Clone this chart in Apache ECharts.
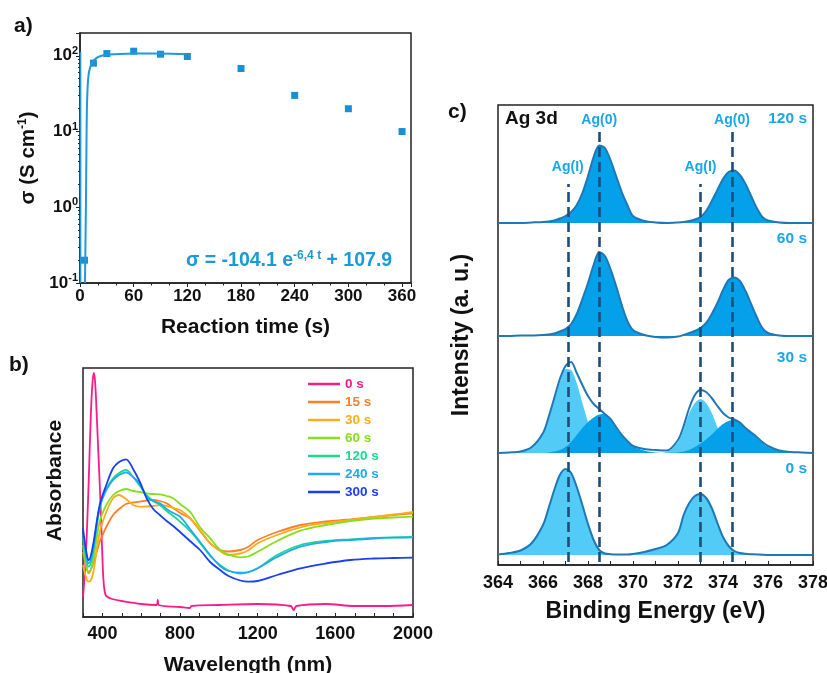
<!DOCTYPE html>
<html><head><meta charset="utf-8">
<script src="https://cdn.jsdelivr.net/npm/echarts@6/dist/echarts.min.js"></script>
<style>html,body{margin:0;padding:0;background:#fff}#c{width:827px;height:673px}</style>
</head><body><div id="c"></div>
<script>
const FONT = '"Liberation Sans", Arial, sans-serif';

// ---------- Panel a: conductivity vs reaction time ----------
const timeS = [5, 15, 30, 60, 90, 120, 180, 240, 300, 360];
const sigma = [0.2, 80, 107, 115, 105, 98, 68, 30, 20, 10];
const fitT = [5.6, 6.2, 6.7, 7.2, 7.7, 8.5, 9.5, 11, 13, 16, 20, 25, 33, 45, 60, 90, 120];
const fitSigma = [0.1, 0.4, 1.3, 6, 20, 38, 55, 68, 78, 88, 96, 101, 104, 106, 107, 107, 105];
const edgeT = [0.6, 0.6];
const edgeSigma = [112, 0.1];
const aXTickLabels = [0, 60, 120, 180, 240, 300, 360];
const aYTickExps = [-1, 0, 1, 2];

// ---------- Panel b: absorbance spectra ----------
const wl0 = [300, 310, 320, 330, 340, 348, 355, 362, 370, 380, 390, 398, 405, 412, 420, 450, 500, 600, 680, 685, 690, 800, 850, 860, 1000, 1200, 1370, 1385, 1400, 1550, 1700, 1850, 2000];
const abs0 = [20, 45, 85, 140, 200, 232, 244, 236, 205, 160, 115, 70, 38, 25, 21, 18, 16, 13, 12, 17, 12, 10, 9, 11, 12, 13, 11, 7, 11, 13, 11, 11, 12];
const wl = [300, 320, 330, 350, 386, 420, 455, 486, 521, 558, 593, 628, 662, 696, 731, 765, 800, 851, 903, 955, 1006, 1050, 1110, 1150, 1200, 1300, 1420, 1550, 1678, 1800, 1900, 2000];
const abs15 = [65, 48, 45, 52, 75, 90, 102, 108, 113, 114.5, 115.3, 116.5, 117, 116, 113.7, 109, 104, 98.7, 86.3, 73.7, 67, 65.5, 67, 70, 77, 85, 92, 95.5, 97.7, 100, 102, 103.7];
const abs30 = [52, 37, 35.3, 42, 85, 105, 118.7, 122, 118, 112, 110.3, 110.5, 111, 112, 111, 109, 107, 99, 87, 74, 66, 62, 63.5, 66.5, 73.7, 82, 89.7, 94, 97, 100, 102.5, 105];
const abs60 = [72, 48, 43.7, 55, 95.3, 112, 122, 126, 128, 126, 125, 123.7, 123, 122.7, 121, 118.7, 113, 105.3, 89.7, 78.7, 67, 62.5, 59.7, 60.5, 65.3, 76, 86.3, 92, 96, 98.5, 99.5, 100.3];
const abs120 = [78.7, 54, 50.3, 62, 108.7, 128, 138.7, 144, 147, 140, 131, 122, 116, 112, 106, 101, 95.3, 86, 74, 61, 52, 46.5, 43.5, 44.5, 48.7, 62, 72, 76, 77.7, 79, 79.7, 80];
const abs240 = [82, 58, 53.7, 66, 110.3, 127, 137, 142, 144.7, 140, 133, 120.3, 116, 113.7, 108, 104, 100.3, 88, 75, 62, 51, 46, 44.3, 45, 48.7, 60, 70.3, 75, 77, 78.5, 79.3, 79.7];
const abs300 = [88.7, 62, 57, 70, 112, 132, 148.7, 155, 157.7, 148, 135, 118.7, 108, 102, 96, 91, 85, 76, 67, 55, 47, 41, 36.5, 35.3, 36, 42, 48.7, 53.5, 57, 58.5, 59, 59.3];
const bNames = ['0 s', '15 s', '30 s', '60 s', '120 s', '240 s', '300 s'];
const bColors = ['#ff1a8c', '#ff7f24', '#ffab1f', '#84e01e', '#1cd98e', '#1ea9f2', '#1b3ff2'];
const bXTickLabels = [400, 800, 1200, 1600, 2000];

// ---------- Panel c: Ag 3d XPS ----------
const be = [364, 364.5, 365, 365.5, 366, 366.25, 366.5, 366.75, 367, 367.25, 367.5, 367.75, 368, 368.25, 368.5, 368.75, 369, 369.25, 369.5, 369.75, 370, 370.5, 371, 371.5, 372, 372.25, 372.5, 372.75, 373, 373.25, 373.5, 373.75, 374, 374.25, 374.5, 374.75, 375, 375.25, 375.5, 375.75, 376, 376.5, 377, 377.5, 378];
const env0s = [0.5, 2, 4.5, 12, 30, 47, 65, 80, 86, 82, 68, 50, 31, 15, 5, 1.5, 0.8, 0.5, 0.5, 0.5, 1, 3, 6, 10, 22, 40, 52, 59, 61, 57, 47, 32, 18, 9, 4, 2, 1.2, 0.8, 0.5, 0.3, 0, 0, 0, 0, 0];
const env30s = [0, 0.5, 1.5, 6, 20, 36, 55, 74, 87, 91, 80, 68, 57, 49, 44, 39, 34, 26, 18, 12, 7, 4, 3, 2.5, 13, 27, 45, 58, 63, 61, 55, 47, 40, 35.5, 33.5, 30.5, 25, 20.5, 16, 11, 7, 2.5, 1, 0.5, 0];
const agI30s = [0, 0.5, 1.5, 6, 20, 35, 53, 71, 84, 83, 70, 50, 31, 17, 8, 3.5, 1.5, 0.5, 0, 0, 0, 0, 0, 1, 11, 24, 40, 50, 54, 50, 40, 26, 14, 6, 2.5, 1, 0.5, 0, 0, 0, 0, 0, 0, 0, 0];
const ag030s = [0, 0, 0, 0, 0, 0.5, 1.5, 3, 6, 11, 18, 25, 31, 35.5, 38.5, 39, 33, 25, 17, 11, 6.5, 2.5, 0.5, 0, 0.5, 1.5, 3, 6, 9.5, 13.5, 18.5, 24, 29, 32, 33, 30, 25, 20, 15, 10, 6, 2, 0.5, 0, 0];
const env60s = [0, 0, 0.5, 0.5, 1, 1.5, 2.5, 4.5, 7, 12, 22, 37, 53, 71, 84, 80, 67, 50, 31, 15, 6, 1, -1, -1.5, -0.5, 1, 3, 5, 8, 13, 22, 33, 46, 56, 58.5, 55, 45, 32, 19, 8, 3, 0.5, 0, 0, 0];
const env120s = [0, 0, 0, 0.5, 1, 1.5, 2.5, 4.5, 7, 11, 18, 30, 47, 66, 77.5, 75, 63, 47, 31, 18, 7, 2, 0.5, 0, 0.5, 1, 2, 3.5, 6, 12, 22, 33, 44, 51, 52.5, 48, 39, 27, 15, 6, 2.5, 0.5, 0, 0, 0];
const peakNames = ['Ag(I)', 'Ag(0)', 'Ag(I)', 'Ag(0)'];
const peakEnergies = [367.1, 368.5, 373.0, 374.4];
const cXTickLabels = [364, 366, 368, 370, 372, 374, 376, 378];
const sampleLabels = ['0 s', '30 s', '60 s', '120 s'];

// layout (stack offsets in panel c units, 1 unit = 1 px)
const offsets = { s0: 10, s30: 112, s60: 229, s120: 342 };
const DARK = '#05a0ea', LIGHT = '#52cbf6', ENV = '#1f78b6', DASH = '#1d4d78', LBL = '#1aa6ea';

const pairs = (xs, ys, off) => xs.map((x, i) => [x, ys[i] + (off || 0)]);

const tickFont = (s) => ({ fontFamily: FONT, fontWeight: 'bold', fontSize: s, color: '#111' });
const nameFont = (s) => ({ fontFamily: FONT, fontWeight: 'bold', fontSize: s, color: '#111' });

const chart = echarts.init(document.getElementById('c'), null, { renderer: 'canvas' });

const series = [];
// panel a
series.push({ name: 'edge', type: 'line', xAxisIndex: 0, yAxisIndex: 0, data: pairs(edgeT, edgeSigma), symbol: 'none', lineStyle: { color: '#2398da', width: 1.6 } });
series.push({ name: 'fit', type: 'line', xAxisIndex: 0, yAxisIndex: 0, data: pairs(fitT, fitSigma), symbol: 'none', smooth: 0.3, lineStyle: { color: '#2398da', width: 2 } });
series.push({ name: 'sigma', type: 'scatter', xAxisIndex: 0, yAxisIndex: 0, data: pairs(timeS, sigma), symbol: 'rect', symbolSize: 7, itemStyle: { color: '#1a8fd2', opacity: 1 } });
// panel b
const bData = [pairs(wl0, abs0), pairs(wl, abs15), pairs(wl, abs30), pairs(wl, abs60), pairs(wl, abs120), pairs(wl, abs240), pairs(wl, abs300)];
bData.forEach((d, i) => {
  series.push({ name: bNames[i], type: 'line', xAxisIndex: 1, yAxisIndex: 1, data: d, symbol: 'none', smooth: 0.35, lineStyle: { color: bColors[i], width: 1.8 }, itemStyle: { color: bColors[i] } });
});
// panel c
function fillSeries(name, ys, off, color) {
  return { name, type: 'line', xAxisIndex: 2, yAxisIndex: 2, data: pairs(be, ys, off), symbol: 'none', smooth: 0.3, lineStyle: { width: 0 }, areaStyle: { color, opacity: 1, origin: off }, silent: true };
}
function envSeries(name, ys, off, fill) {
  const s = { name, type: 'line', xAxisIndex: 2, yAxisIndex: 2, data: pairs(be, ys, off), symbol: 'none', smooth: 0.3, lineStyle: { color: ENV, width: 2 }, silent: true };
  if (fill) s.areaStyle = { color: fill, opacity: 1, origin: off };
  return s;
}
series.push(envSeries('xps 0 s', env0s, offsets.s0, LIGHT));
series.push(fillSeries('xps 30 s Ag(I)', agI30s, offsets.s30, LIGHT));
series.push(fillSeries('xps 30 s Ag(0)', ag030s, offsets.s30, DARK));
series.push(envSeries('xps 30 s', env30s, offsets.s30));
series.push(envSeries('xps 60 s', env60s, offsets.s60, DARK));
const top120 = envSeries('xps 120 s', env120s, offsets.s120, DARK);
const lineTops = { 'Ag(0)': 433, 'Ag(I)': 381 };
top120.markLine = {
  silent: true, symbol: ['none', 'none'], animation: false,
  lineStyle: { color: DASH, width: 2.6, type: [10, 5] },
  data: peakEnergies.map((e, i) => [
    { coord: [e, 3] },
    { coord: [e, lineTops[peakNames[i]]], label: { show: true, position: 'end', formatter: peakNames[i], distance: peakNames[i] === 'Ag(0)' ? 5 : 10, color: LBL, fontFamily: FONT, fontWeight: 'bold', fontSize: 14 } }
  ])
};
series.push(top120);

const gridBase = { show: true, borderColor: '#222', borderWidth: 1.5, backgroundColor: 'transparent', containLabel: false, outerBoundsMode: 'none' };
const option = {
  animation: false,
  backgroundColor: '#fff',
  grid: [
    Object.assign({ left: 80, top: 33, width: 331, height: 250 }, gridBase),
    Object.assign({ left: 83, top: 368, width: 330, height: 249 }, gridBase),
    Object.assign({ left: 498, top: 105, width: 315, height: 460 }, gridBase)
  ],
  xAxis: [
    { gridIndex: 0, type: 'value', min: 0, max: 370, interval: 60,
      axisLine: { lineStyle: { color: '#222', width: 1.5 } },
      axisTick: { inside: false, length: 4, lineStyle: { color: '#222' } },
      minorTick: { show: true, splitNumber: 3, length: 2.5, lineStyle: { color: '#222' } },
      splitLine: { show: false },
      axisLabel: Object.assign({ margin: 5, formatter: v => aXTickLabels.includes(v) ? String(v) : '' }, tickFont(17)),
      name: 'Reaction time (s)', nameLocation: 'middle', nameGap: 34, nameTextStyle: nameFont(21) },
    { gridIndex: 1, type: 'value', min: 300, max: 2000, interval: 100,
      axisLine: { lineStyle: { color: '#222', width: 1.5 } },
      axisTick: { inside: true, length: 4, lineStyle: { color: '#222' } },
      splitLine: { show: false },
      axisLabel: Object.assign({ margin: 8, formatter: v => bXTickLabels.includes(v) ? String(v) : '' }, tickFont(18)),
      name: 'Wavelength (nm)', nameLocation: 'middle', nameGap: 38, nameTextStyle: nameFont(21) },
    { gridIndex: 2, type: 'value', min: 364, max: 378, interval: 2,
      axisLine: { lineStyle: { color: '#222', width: 1.5 } },
      axisTick: { inside: true, length: 4, lineStyle: { color: '#222' } },
      minorTick: { show: true, splitNumber: 2, length: 4, lineStyle: { color: '#222' } },
      splitLine: { show: false },
      axisLabel: Object.assign({ margin: 9, formatter: v => cXTickLabels.includes(v) ? String(v) : '' }, tickFont(18)),
      name: 'Binding Energy (eV)', nameLocation: 'middle', nameGap: 35, nameTextStyle: nameFont(23) }
  ],
  yAxis: [
    { gridIndex: 0, type: 'log', logBase: 10, min: 0.1, max: 200,
      axisLine: { show: true, lineStyle: { color: '#222', width: 1.5 } },
      axisTick: { inside: false, length: 4, lineStyle: { color: '#222' } },
      minorTick: { show: true, splitNumber: 9, length: 2, lineStyle: { color: '#222' } },
      splitLine: { show: false },
      axisLabel: Object.assign({ margin: 2, formatter: v => {
        const e = Math.round(Math.log10(v));
        if (Math.abs(Math.log10(v) - e) > 1e-6 || !aYTickExps.includes(e)) return '';
        return '10{sup|' + e + '}';
      }, rich: { sup: { fontSize: 11, fontWeight: 'bold', fontFamily: FONT, color: '#111', padding: [0, 0, 10, 0] } } }, tickFont(17)),
      name: 'σ (S cm{sup|-1})', nameLocation: 'middle', nameGap: 40,
      nameTextStyle: Object.assign(nameFont(20.5), { rich: { sup: { fontSize: 12, fontWeight: 'bold', fontFamily: FONT, color: '#111', padding: [0, 0, 11, 0] } } }) },
    { gridIndex: 1, type: 'value', min: 0, max: 249,
      axisLine: { show: false }, axisTick: { show: false }, axisLabel: { show: false }, splitLine: { show: false },
      name: 'Absorbance', nameLocation: 'middle', nameGap: 17,
      nameTextStyle: Object.assign(nameFont(21), { padding: [0, 0, 0, 24] }) },
    { gridIndex: 2, type: 'value', min: 0, max: 460,
      axisLine: { show: false }, axisTick: { show: false }, axisLabel: { show: false }, splitLine: { show: false },
      name: 'Intensity (a. u.)', nameLocation: 'middle', nameGap: 25, nameTextStyle: nameFont(23) }
  ],
  legend: {
    data: bNames.map((n, i) => ({ name: n, textStyle: { color: bColors[i] } })),
    orient: 'vertical', left: 303, top: 372, itemWidth: 32, itemHeight: 2.5, itemGap: 4, icon: 'rect',
    textStyle: { fontFamily: FONT, fontWeight: 'bold', fontSize: 13.5, lineHeight: 13.5 },
    selectedMode: false
  },
  graphic: [
    { type: 'text', x: 14, y: 26, style: { text: 'a)', fontFamily: FONT, fontWeight: 'bold', fontSize: 21, fill: '#111', verticalAlign: 'middle' } },
    { type: 'text', x: 9, y: 365, style: { text: 'b)', fontFamily: FONT, fontWeight: 'bold', fontSize: 21, fill: '#111', verticalAlign: 'middle' } },
    { type: 'text', x: 448, y: 112, style: { text: 'c)', fontFamily: FONT, fontWeight: 'bold', fontSize: 21, fill: '#111', verticalAlign: 'middle' } },
    { type: 'text', x: 186, y: 261, style: { text: 'σ = -104.1 e{sup|-6,4 t} + 107.9', fontFamily: FONT, fontWeight: 'bold', fontSize: 19.5, fill: '#1a9ad8', verticalAlign: 'middle',
      rich: { sup: { fontSize: 12, fontWeight: 'bold', fontFamily: FONT, fill: '#1a9ad8', padding: [0, 0, 11, 0] } } } },
    { type: 'text', x: 505, y: 119, style: { text: 'Ag 3d', fontFamily: FONT, fontWeight: 'bold', fontSize: 19, fill: '#111', verticalAlign: 'middle' } },
    { type: 'text', x: 807, y: 119, style: { text: sampleLabels[3], fontFamily: FONT, fontWeight: 'bold', fontSize: 15.5, fill: LBL, align: 'right', verticalAlign: 'middle' } },
    { type: 'text', x: 807, y: 239, style: { text: sampleLabels[2], fontFamily: FONT, fontWeight: 'bold', fontSize: 15.5, fill: LBL, align: 'right', verticalAlign: 'middle' } },
    { type: 'text', x: 807, y: 358, style: { text: sampleLabels[1], fontFamily: FONT, fontWeight: 'bold', fontSize: 15.5, fill: LBL, align: 'right', verticalAlign: 'middle' } },
    { type: 'text', x: 807, y: 469, style: { text: sampleLabels[0], fontFamily: FONT, fontWeight: 'bold', fontSize: 15.5, fill: LBL, align: 'right', verticalAlign: 'middle' } }
  ],
  series
};
chart.setOption(option);
</script>
</body></html>
